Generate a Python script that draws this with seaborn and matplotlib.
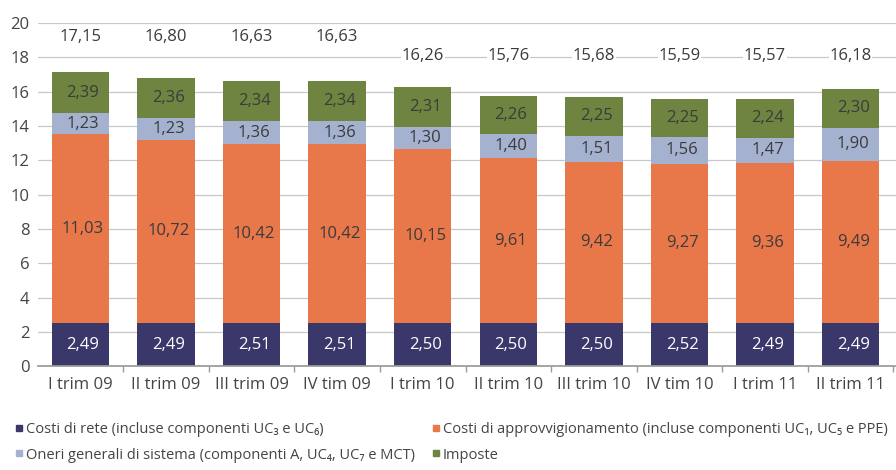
import matplotlib
matplotlib.use("Agg")
import matplotlib.pyplot as plt
import numpy as np
import pandas as pd
import seaborn as sns
from matplotlib.lines import Line2D

quarters = ["I trim 09", "II trim 09", "III trim 09", "IV tim 09", "I trim 10",
            "II trim 10", "III trim 10", "IV tim 10", "I trim 11", "II trim 11"]
rete = [2.49, 2.49, 2.51, 2.51, 2.50, 2.50, 2.50, 2.52, 2.49, 2.49]
approvv = [11.03, 10.72, 10.42, 10.42, 10.15, 9.61, 9.42, 9.27, 9.36, 9.49]
oneri = [1.23, 1.23, 1.36, 1.36, 1.30, 1.40, 1.51, 1.56, 1.47, 1.90]
imposte = [2.39, 2.36, 2.34, 2.34, 2.31, 2.26, 2.25, 2.25, 2.24, 2.30]
totali = [17.15, 16.80, 16.63, 16.63, 16.26, 15.76, 15.68, 15.59, 15.57, 16.18]

names = [
    "Costi di rete (incluse componenti UC\u2083 e UC\u2086)",
    "Costi di approvvigionamento (incluse componenti UC\u2081, UC\u2085 e PPE)",
    "Oneri generali di sistema (componenti A, UC\u2084, UC\u2087 e MCT)",
    "Imposte",
]
colors = ["#3a386b", "#e8774a", "#a5b2cf", "#6e8440"]

sns.set_theme(style="white")
plt.rcParams["font.family"] = ["Open Sans", "DejaVu Sans"]

layers = np.array([rete, approvv, oneri, imposte])
cum = np.cumsum(layers, axis=0)
df = pd.DataFrame({"quarter": quarters})

fig = plt.figure(figsize=(8.96, 4.70), dpi=100)
ax = fig.add_axes([0.042, 0.221, 0.958, 0.730])

# draw cumulative heights from top layer down so each overlaps the next
for k in range(3, -1, -1):
    df["h"] = cum[k]
    sns.barplot(data=df, x="quarter", y="h", color=colors[k], width=0.67,
                saturation=1, linewidth=0, ax=ax, zorder=2)

for i in range(len(quarters)):
    for k in range(4):
        base = cum[k - 1][i] if k > 0 else 0
        ymid = base + layers[k][i] / 2
        ax.text(i + 0.03, ymid, f"{layers[k][i]:.2f}".replace(".", ","),
                ha="center", va="center", fontsize=12,
                color="white" if k == 0 else "#3b3b3b", zorder=3)
    ytot = 19.2 if i < 4 else 18.05
    ax.text(i, ytot, f"{totali[i]:.2f}".replace(".", ","), ha="center",
            va="center", fontsize=12, color="#3b3b3b", zorder=3,
            bbox=dict(facecolor="white", edgecolor="none", pad=0.5) if i >= 4 else None)

ax.set_ylim(0, 20)
ax.set_xlim(-0.5, 9.53)
ax.set_yticks(range(0, 21, 2))
ax.yaxis.grid(True, color="#c8c8c8", linewidth=0.9, zorder=0)
ax.set_axisbelow(True)
ax.set_xlabel("")
ax.set_ylabel("")
for s in ["top", "right", "left"]:
    ax.spines[s].set_visible(False)
ax.spines["bottom"].set_color("#9a9a9a")
ax.tick_params(axis="y", length=0, labelsize=12, labelcolor="#444444", pad=6)
ax.tick_params(axis="x", length=0, labelsize=12, labelcolor="#444444", pad=8)
ax.set_xticks(np.arange(len(quarters)) + 0.5, minor=True)
ax.tick_params(axis="x", which="minor", length=4, color="#9a9a9a", bottom=True)

handles = [Line2D([], [], marker="s", linestyle="none", markersize=5,
                  color=colors[k]) for k in [0, 2, 1, 3]]
labels = [names[k] for k in [0, 2, 1, 3]]
fig.legend(handles, labels, loc="lower left", bbox_to_anchor=(0.0, -0.012),
           ncol=2, frameon=False, fontsize=10.5, handletextpad=0.1,
           columnspacing=1.0, labelspacing=0.7, handlelength=0.8,
           labelcolor="#444444")

fig.savefig("out.png", dpi=100)
